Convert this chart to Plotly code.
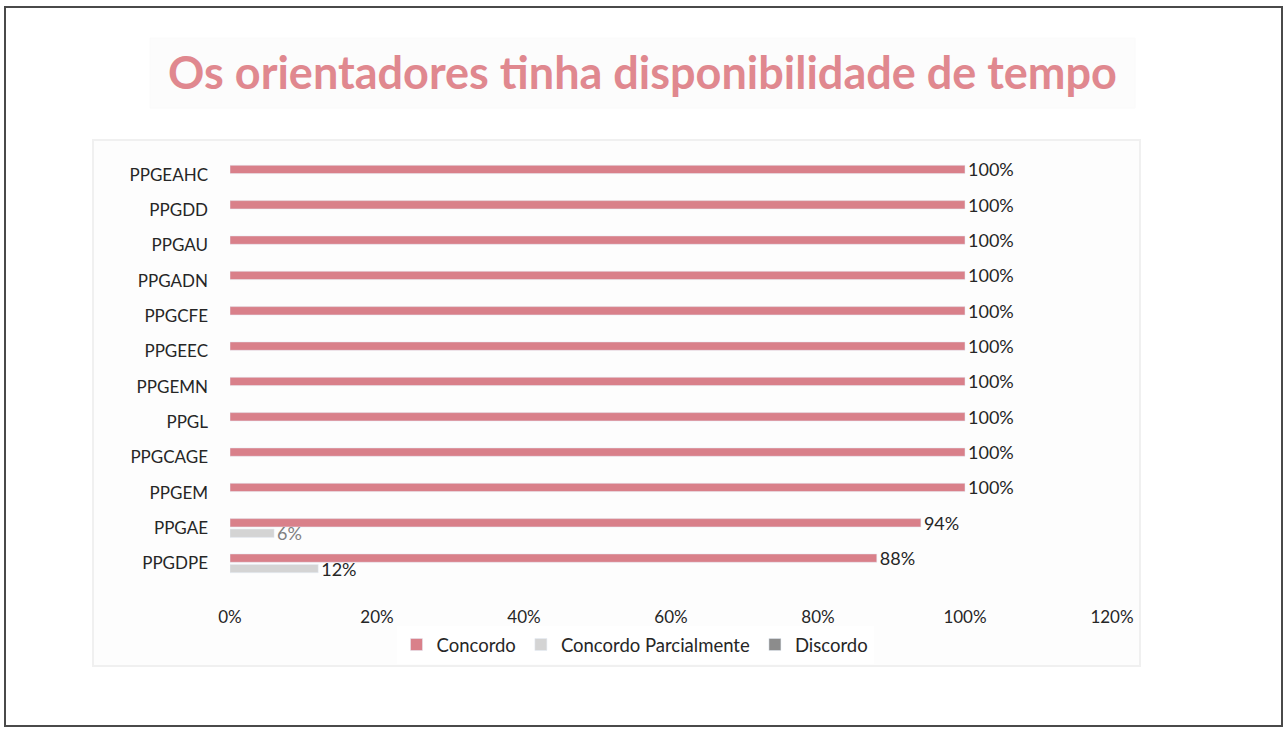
import plotly.graph_objects as go

categories = ["PPGEAHC", "PPGDD", "PPGAU", "PPGADN", "PPGCFE", "PPGEEC",
              "PPGEMN", "PPGL", "PPGCAGE", "PPGEM", "PPGAE", "PPGDPE"]
concordo = [1.00, 1.00, 1.00, 1.00, 1.00, 1.00, 1.00, 1.00, 1.00, 1.00, 0.94, 0.88]
parcial = [None, None, None, None, None, None, None, None, None, None, 0.06, 0.12]
discordo = [None] * 12

W, H = 1285, 729
L, R, T, B = 230, 1112, 157, 581
pw, ph = R - L, B - T


def px(x):
    return (x - L) / pw


def py(y):
    return (B - y) / ph


FONT = "Lato"
fig = go.Figure()
fig.add_trace(go.Bar(
    y=categories, x=concordo, name="Concordo", orientation="h",
    marker=dict(color="#D9808A"), offsetgroup="a",
    text=[f"{v*100:.0f}%" for v in concordo], textposition="outside",
    constraintext="none",
    textfont=dict(color="#262626", size=18, family=FONT), cliponaxis=False,
))
fig.add_trace(go.Bar(
    y=categories, x=parcial, name="Concordo Parcialmente", orientation="h",
    marker=dict(color="#D4D4D4"), offsetgroup="b",
    text=[("" if v is None else f"{v*100:.0f}%") for v in parcial], textposition="outside",
    constraintext="none",
    textfont=dict(color=["#262626"] * 10 + ["#808080", "#262626"], size=18, family=FONT),
    cliponaxis=False,
))
fig.add_trace(go.Bar(
    y=categories, x=discordo, name="Discordo", orientation="h",
    marker=dict(color="#8C8C8C"), offsetgroup="b",
))

shapes = [
    dict(type="rect", xref="paper", yref="paper",
         x0=px(5), x1=px(1282), y0=py(7), y1=py(726),
         line=dict(color="#4a4a4a", width=2), fillcolor="rgba(0,0,0,0)", layer="below"),
    dict(type="rect", xref="paper", yref="paper",
         x0=px(150), x1=px(1135), y0=py(38), y1=py(108),
         line=dict(color="#FAFAFA", width=1), fillcolor="#FCFCFC", layer="below"),
    dict(type="rect", xref="paper", yref="paper",
         x0=px(93), x1=px(1140), y0=py(140), y1=py(666),
         line=dict(color="#F0F0F0", width=2), fillcolor="#FDFDFD", layer="below"),
]

fig.update_layout(
    width=W, height=H,
    margin=dict(l=L, r=W - R, t=T, b=H - B),
    paper_bgcolor="white", plot_bgcolor="rgba(0,0,0,0)",
    barmode="group", bargap=0.41, bargroupgap=0.2,
    title=dict(text="<b>Os orientadores tinha disponibilidade de tempo</b>",
               x=0.5, xanchor="center", y=1 - 73 / H, yanchor="middle",
               font=dict(size=45, color="#E0888F", family=FONT)),
    xaxis=dict(range=[0, 1.2], tickvals=[0, 0.2, 0.4, 0.6, 0.8, 1.0, 1.2],
               ticktext=["0%", "20%", "40%", "60%", "80%", "100%", "120%"],
               showgrid=False, zeroline=False, showline=False, ticks="",
               tickfont=dict(size=17, color="#262626", family=FONT), ticklabelstandoff=24),
    yaxis=dict(autorange="reversed", showgrid=False, showline=False, ticks="",
               tickfont=dict(size=17, color="#262626", family=FONT), ticklabelstandoff=21),
    legend=dict(orientation="h", x=px(635), xanchor="center", y=py(645), yanchor="middle",
                font=dict(size=18.5, color="#262626", family=FONT), traceorder="normal",
                itemwidth=30),
    shapes=shapes,
    showlegend=True,
)

fig.write_html("out.html", config={"displayModeBar": False},
               post_script="document.body.style.margin='0';document.body.style.overflow='hidden';")
